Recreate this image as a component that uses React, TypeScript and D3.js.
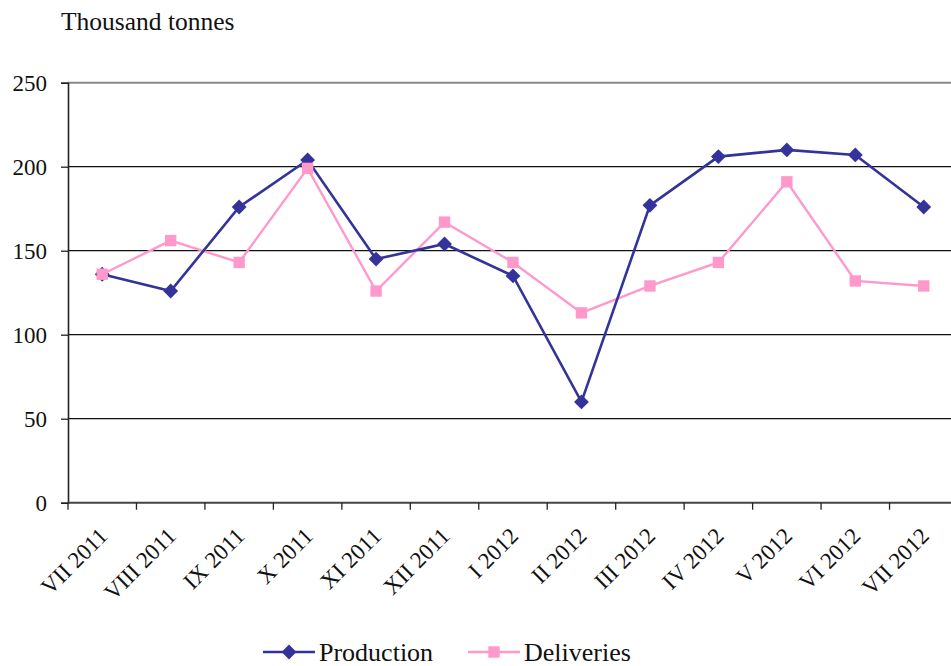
import { useEffect, useRef } from "react";
import * as d3 from "d3";

const months = [
  "VII 2011",
  "VIII 2011",
  "IX 2011",
  "X 2011",
  "XI 2011",
  "XII 2011",
  "I 2012",
  "II 2012",
  "III 2012",
  "IV 2012",
  "V 2012",
  "VI 2012",
  "VII 2012",
];
const production = [136, 126, 176, 204, 145, 154, 135, 60, 177, 206, 210, 207, 176];
const deliveries = [136, 156, 143, 199, 126, 167, 143, 113, 129, 143, 191, 132, 129];
const yTicks = [0, 50, 100, 150, 200, 250];

const PROD_COLOR = "#333399";
const DELIV_COLOR = "#FF99CC";
const FONT = "'Liberation Serif', 'Times New Roman', serif";

const App = () => {
  const ref = useRef<SVGSVGElement | null>(null);

  useEffect(() => {
    if (!ref.current) return;
    document.body.style.margin = "0";
    const svg = d3.select(ref.current);
    svg.selectAll("*").remove();

    const width = 951,
      height = 666;
    const left = 68,
      top = 82.7,
      bottom = 502.7,
      right = 958;

    svg.attr("width", width).attr("height", height).style("font-family", FONT);

    const x = d3.scaleBand().domain(months).range([left, right]);
    const y = d3.scaleLinear().domain([0, 250]).range([bottom, top]);
    const cx = (d: string) => x(d)! + x.bandwidth() / 2;

    // title
    svg
      .append("text")
      .attr("x", 61)
      .attr("y", 30)
      .attr("font-size", 25.5)
      .attr("fill", "#111")
      .text("Thousand tonnes");

    // gridlines
    svg
      .append("g")
      .selectAll("line")
      .data(yTicks.filter((t) => t > 0))
      .enter()
      .append("line")
      .attr("x1", left)
      .attr("x2", width)
      .attr("y1", (d) => y(d))
      .attr("y2", (d) => y(d))
      .attr("stroke", (d) => (d === 250 ? "#888" : "#111"))
      .attr("stroke-width", (d) => (d === 250 ? 2 : 1.3));

    // y axis
    const yAxis = svg
      .append("g")
      .attr("transform", `translate(${left},0)`)
      .call(d3.axisLeft(y).tickValues(yTicks).tickSize(7).tickPadding(14));
    yAxis.select(".domain").attr("stroke", "#222").attr("stroke-width", 1.6);
    yAxis.selectAll(".tick line").attr("stroke", "#222").attr("stroke-width", 1.3);
    yAxis
      .selectAll(".tick text")
      .attr("font-size", 23)
      .attr("font-family", FONT)
      .attr("fill", "#111");

    // x axis
    svg
      .append("line")
      .attr("x1", left)
      .attr("x2", width)
      .attr("y1", bottom)
      .attr("y2", bottom)
      .attr("stroke", "#444")
      .attr("stroke-width", 2);
    svg
      .append("g")
      .selectAll("line")
      .data(months)
      .enter()
      .append("line")
      .attr("x1", (d) => x(d)!)
      .attr("x2", (d) => x(d)!)
      .attr("y1", bottom)
      .attr("y2", bottom + 7)
      .attr("stroke", "#222")
      .attr("stroke-width", 1.3);
    svg
      .append("g")
      .selectAll("text")
      .data(months)
      .enter()
      .append("text")
      .attr("transform", (d) => `translate(${cx(d) + 1},${bottom + 29}) rotate(-45)`)
      .attr("text-anchor", "end")
      .attr("dy", "0.35em")
      .attr("font-size", 23)
      .attr("fill", "#111")
      .text((d) => d);

    const line = d3
      .line<number>()
      .x((_, i) => cx(months[i]))
      .y((d) => y(d));

    // deliveries
    svg
      .append("path")
      .datum(deliveries)
      .attr("fill", "none")
      .attr("stroke", DELIV_COLOR)
      .attr("stroke-width", 2.4)
      .attr("d", line);
    // production
    svg
      .append("path")
      .datum(production)
      .attr("fill", "none")
      .attr("stroke", PROD_COLOR)
      .attr("stroke-width", 2.6)
      .attr("d", line);

    const diamond = d3.symbol().type(d3.symbolSquare).size(110);
    const square = d3.symbol().type(d3.symbolSquare).size(130);

    svg
      .append("g")
      .selectAll("path")
      .data(production)
      .enter()
      .append("path")
      .attr("d", diamond)
      .attr("transform", (d, i) => `translate(${cx(months[i])},${y(d)}) rotate(45)`)
      .attr("fill", PROD_COLOR);
    svg
      .append("g")
      .selectAll("path")
      .data(deliveries)
      .enter()
      .append("path")
      .attr("d", square)
      .attr("transform", (d, i) => `translate(${cx(months[i])},${y(d)})`)
      .attr("fill", DELIV_COLOR);

    // legend
    const legend = [
      { name: "Production", color: PROD_COLOR, x0: 263, marker: diamond, rot: 45, w: 2.6 },
      { name: "Deliveries", color: DELIV_COLOR, x0: 468, marker: square, rot: 0, w: 2.4 },
    ];
    const lg = svg.append("g");
    legend.forEach((l) => {
      lg.append("line")
        .attr("x1", l.x0)
        .attr("x2", l.x0 + 52)
        .attr("y1", 652)
        .attr("y2", 652)
        .attr("stroke", l.color)
        .attr("stroke-width", l.w);
      lg.append("path")
        .attr("d", l.marker)
        .attr("transform", `translate(${l.x0 + 26},652) rotate(${l.rot})`)
        .attr("fill", l.color);
      lg.append("text")
        .attr("x", l.x0 + 56)
        .attr("y", 652)
        .attr("dy", "0.35em")
        .attr("font-size", 26)
        .attr("fill", "#111")
        .text(l.name);
    });
  }, []);

  return (
    <div style={{ position: "absolute", left: 0, top: 0 }}>
      <svg ref={ref}></svg>
    </div>
  );
};

export default App;
